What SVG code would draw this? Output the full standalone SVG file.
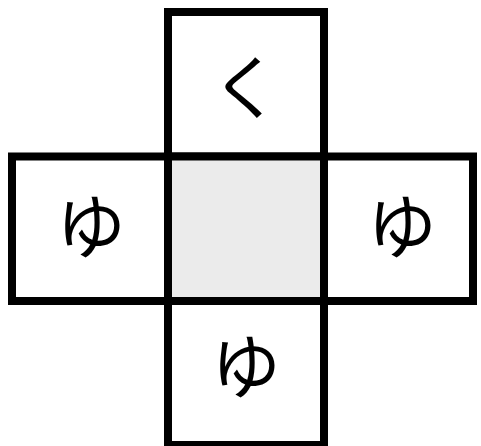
<svg xmlns="http://www.w3.org/2000/svg" width="481" height="446" viewBox="0 0 481 446">
<style>
.c{fill:#fff;stroke:#000;stroke-width:8}
.g{fill:#ebebeb}
text{font-family:"Noto Sans CJK JP","Noto Sans",sans-serif;font-size:70px;text-anchor:middle;dominant-baseline:central;fill:#000}
</style>
<rect width="481" height="446" fill="#fff"/>
<g id="top"><rect class="c" x="168" y="12" width="156" height="144.5"/><text x="246" y="83">く</text></g>
<g id="left"><rect class="c" x="12" y="156.5" width="156" height="144.5"/><text x="91" y="222">ゆ</text></g>
<g id="center"><rect class="c g" x="168" y="156.5" width="156" height="144.5"/></g>
<g id="right"><rect class="c" x="324" y="156.5" width="149" height="144.5"/><text x="402" y="222">ゆ</text></g>
<g id="bottom"><rect class="c" x="168" y="301" width="156" height="144"/><text x="246" y="362">ゆ</text></g>
</svg>
